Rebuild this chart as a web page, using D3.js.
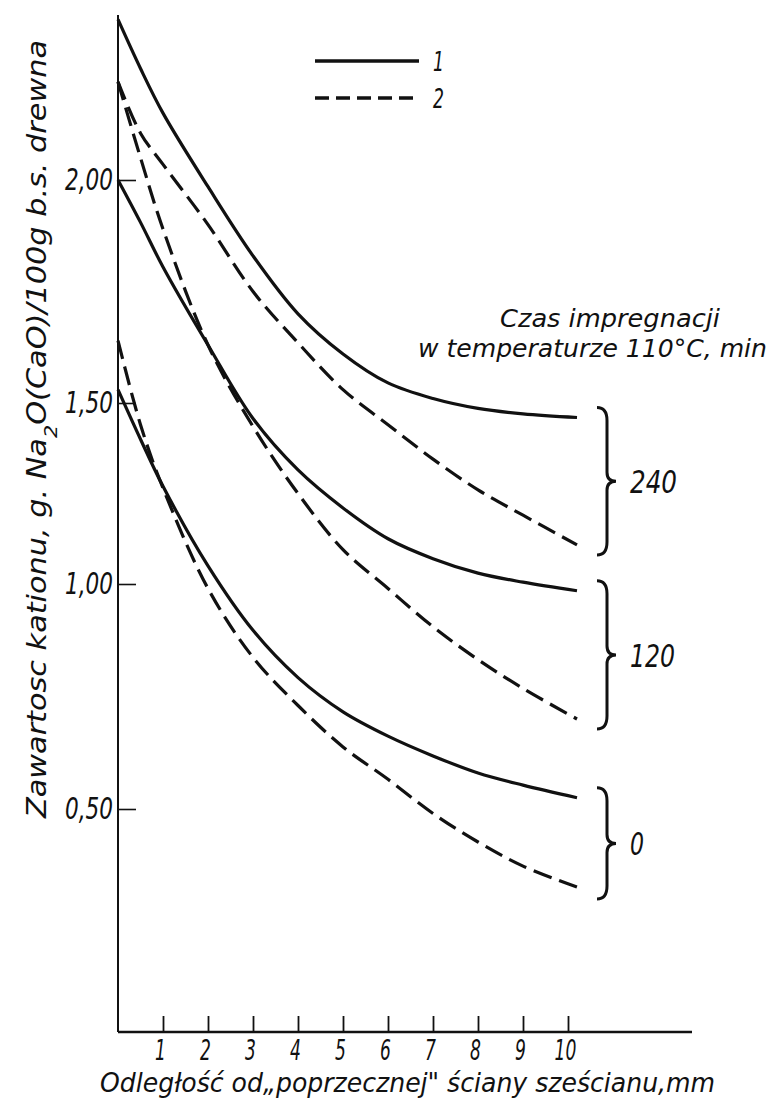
<!DOCTYPE html>
<html>
<head>
<meta charset="utf-8">
<script src="https://cdn.jsdelivr.net/npm/d3@7"></script>
<style>
  body { margin: 0; background: #fff; }
  svg { display: block; }
  text { font-family: "Liberation Sans Narrow", "DejaVu Sans Condensed", "DejaVu Sans", sans-serif; font-style: italic; fill: #111; }
  .curve { fill: none; stroke: #111; stroke-width: 3.2; }
  .dashed { stroke-dasharray: 19 8; }
</style>
</head>
<body>
<div id="chart"></div>
<script>
const width = 774;
const height = 1098;

// odległość, mm
const distance = [0, 0.5, 1, 2, 3, 4, 5, 6, 7, 8, 9, 10.2];
// czas impregnacji 240 min
const solid240  = [2.36, 2.25, 2.15, 1.985, 1.83, 1.70, 1.61, 1.545, 1.51, 1.485, 1.47, 1.46];
const dashed240 = [2.22, 2.105, 2.035, 1.90, 1.75, 1.635, 1.53, 1.44, 1.345, 1.26, 1.19, 1.108];
// 120 min
const solid120  = [2.00, 1.905, 1.805, 1.63, 1.457, 1.315, 1.21, 1.125, 1.07, 1.03, 1.005, 0.985];
const dashed120 = [2.22, 2.05, 1.89, 1.63, 1.435, 1.25, 1.095, 0.99, 0.905, 0.832, 0.768, 0.70];
// 0 min
const solid0    = [1.53, 1.40, 1.27, 1.05, 0.897, 0.792, 0.716, 0.662, 0.618, 0.58, 0.553, 0.525];
const dashed0   = [1.64, 1.44, 1.265, 0.99, 0.837, 0.73, 0.638, 0.566, 0.49, 0.426, 0.372, 0.325];

const groups = ['240', '120', '0'];
const xTicks = [1, 2, 3, 4, 5, 6, 7, 8, 9, 10];
const yTicks = [0.5, 1.0, 1.5, 2.0];
const legendLabels = ['1', '2'];

const svg = d3.select('#chart').append('svg')
  .attr('width', width)
  .attr('height', height);

svg.append('rect').attr('width', width).attr('height', height).attr('fill', '#fff');

const x = d3.scaleLinear().domain([0, 10]).range([118, 568]);
// skala odczytana z podziałki rysunku (nie całkiem równomierna)
const y = d3.scaleLinear().domain([0, 0.5, 1.0, 1.5, 2.0]).range([1032, 809, 584, 403, 180]);

// osie
const xAxis = svg.append('g')
  .attr('transform', `translate(0,${y(0)})`)
  .call(d3.axisBottom(x).tickValues(xTicks).tickSizeInner(-16).tickSizeOuter(0).tickPadding(8));
xAxis.select('.domain').remove();
xAxis.selectAll('.tick line').attr('stroke', '#111').attr('stroke-width', 1.8);
xAxis.selectAll('.tick text')
  .attr('font-size', 28).attr('fill', '#111').attr('font-family', null)
  .attr('transform', 'translate(-3,0) scale(0.68,1)');

svg.append('line')
  .attr('x1', x(0)).attr('x2', 692)
  .attr('y1', y(0)).attr('y2', y(0))
  .attr('stroke', '#111').attr('stroke-width', 2.6);

const yAxis = svg.append('g')
  .attr('transform', `translate(${x(0)},0)`)
  .call(d3.axisLeft(y).tickValues(yTicks).tickSizeInner(-18).tickSizeOuter(0).tickPadding(5)
    .tickFormat(d => d3.format('.2f')(d).replace('.', ',')));
yAxis.select('.domain').remove();
yAxis.selectAll('.tick line').attr('stroke', '#111').attr('stroke-width', 1.6);
yAxis.selectAll('.tick text')
  .attr('font-size', 30).attr('fill', '#111').attr('font-family', null)
  .attr('textLength', 48).attr('lengthAdjust', 'spacingAndGlyphs');

svg.append('line')
  .attr('x1', x(0)).attr('x2', x(0))
  .attr('y1', 15).attr('y2', y(0))
  .attr('stroke', '#111').attr('stroke-width', 2);

// krzywe
const line = d3.line()
  .x((d, i) => x(distance[i]))
  .y(d => y(d))
  .curve(d3.curveCatmullRom.alpha(0.5));

const series = [
  { values: solid240, dashed: false },
  { values: dashed240, dashed: true },
  { values: solid120, dashed: false },
  { values: dashed120, dashed: true },
  { values: solid0, dashed: false },
  { values: dashed0, dashed: true }
];

svg.append('g').selectAll('path')
  .data(series).join('path')
  .attr('class', d => d.dashed ? 'curve dashed' : 'curve')
  .attr('d', d => line(d.values));

// klamry z czasem impregnacji
const last = distance.length - 1;
const braceData = [
  { label: groups[0], w: 47, top: y(solid240[last]) - 10, bottom: y(dashed240[last]) + 10 },
  { label: groups[1], w: 45, top: y(solid120[last]) - 10, bottom: y(dashed120[last]) + 10 },
  { label: groups[2], w: 14, top: y(solid0[last]) - 10, bottom: y(dashed0[last]) + 12 }
];

function bracePath(bx, t, b) {
  const m = (t + b) / 2;
  return `M${bx - 10},${t} Q${bx},${t} ${bx},${t + 13} L${bx},${m - 9} Q${bx},${m} ${bx + 9},${m}` +
         ` Q${bx},${m} ${bx},${m + 9} L${bx},${b - 13} Q${bx},${b} ${bx - 10},${b}`;
}

const braces = svg.append('g');
braces.selectAll('path')
  .data(braceData).join('path')
  .attr('d', d => bracePath(607, d.top, d.bottom))
  .attr('fill', 'none').attr('stroke', '#111').attr('stroke-width', 3);

braces.selectAll('text')
  .data(braceData).join('text')
  .attr('x', 630)
  .attr('y', d => (d.top + d.bottom) / 2 + 12)
  .attr('font-size', 32)
  .attr('textLength', d => d.w).attr('lengthAdjust', 'spacingAndGlyphs')
  .text(d => d.label);

svg.append('text')
  .attr('x', 500).attr('y', 327)
  .attr('font-size', 25)
  .attr('textLength', 220).attr('lengthAdjust', 'spacingAndGlyphs')
  .text('Czas impregnacji');

svg.append('text')
  .attr('x', 418).attr('y', 357)
  .attr('font-size', 25)
  .attr('textLength', 349).attr('lengthAdjust', 'spacingAndGlyphs')
  .text('w temperaturze 110°C, min');

// legenda
const legend = svg.append('g').attr('transform', 'translate(315,61)');
legendLabels.forEach((lab, i) => {
  const item = legend.append('g').attr('transform', `translate(0,${i * 37})`);
  item.append('line')
    .attr('x1', 0).attr('x2', 104)
    .attr('stroke', '#111').attr('stroke-width', 3.6)
    .attr('stroke-dasharray', i === 1 ? '14 7' : null);
  item.append('text').attr('x', 118).attr('y', 10).attr('font-size', 26)
    .attr('textLength', 11).attr('lengthAdjust', 'spacingAndGlyphs').text(lab);
});

// tytuły osi
svg.append('text')
  .attr('x', 100).attr('y', 1092)
  .attr('font-size', 27)
  .attr('textLength', 615).attr('lengthAdjust', 'spacingAndGlyphs')
  .text('Odległość od„poprzecznej" ściany sześcianu,mm');

const yTitle = svg.append('text')
  .attr('transform', 'translate(46,818) rotate(-90)')
  .attr('font-size', 26)
  .attr('textLength', 778).attr('lengthAdjust', 'spacingAndGlyphs');
yTitle.append('tspan').text('Zawartosc kationu, g. Na');
yTitle.append('tspan').attr('baseline-shift', 'sub').attr('font-size', 18).text('2');
yTitle.append('tspan').text('O(CaO)/100g b.s. drewna');
</script>
</body>
</html>
